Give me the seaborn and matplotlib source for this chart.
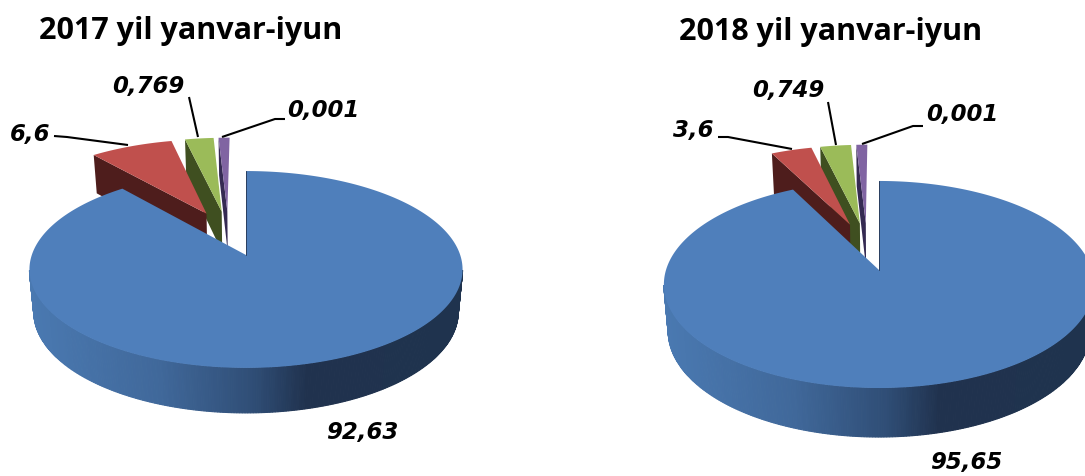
import numpy as np
import matplotlib
matplotlib.use('Agg')
import matplotlib.pyplot as plt
from matplotlib.colors import LinearSegmentedColormap
import seaborn as sns

# labels printed on the chart
titles = ['2017 yil yanvar-iyun', '2018 yil yanvar-iyun']
labels_2017 = ['92,63', '6,6', '0,769', '0,001']
labels_2018 = ['95,65', '3,6', '0,749', '0,001']

# slice sizes as drawn (percent of the circle)
shares_2017 = [88.9, 7.5, 2.6, 1.0]
shares_2018 = [92.5, 3.7, 2.8, 1.0]
explode = [0.25, 0.25, 0.25, 0.25]

sns.set_theme(style='white')
plt.rcParams['font.family'] = ['Open Sans', 'DejaVu Sans']

top_colors = sns.color_palette(['#4F7FBB', '#C0504D', '#9BBB59', '#8064A2'])
wall_colors = sns.color_palette(['#1F334E', '#4E1D1C', '#3F4F20', '#352A52'])
rim_cmap = LinearSegmentedColormap.from_list('rim', [
    (0.0, '#4A79B1'), (0.3, '#40689A'), (0.52, '#2F4D75'),
    (0.64, '#20324E'), (1.0, '#1F334E')])


def project(u, v, p, z=0.0):
    # flat disc coords -> pixels, with perspective; z=1 is the bottom of the pie
    u, v = np.asarray(u), np.asarray(v)
    s = 1 / (1 + p['k'] * v)
    x = p['rx'] * u * s * (1 - 0.02 * z)
    y = -p['ry'] * v * s + z * (p['depth'] - 3 * v)
    return p['cx'] + x, p['cy'] + y


def wedge_corners(w, n=120):
    a = np.radians(np.linspace(w.theta1, w.theta2, n))
    return w.center[0] + w.r * np.cos(a), w.center[1] + w.r * np.sin(a)


def draw_pie(ax, shares, p):
    wedges, _ = ax.pie(shares, explode=explode, startangle=90, counterclock=False)
    origin = wedges[0].center

    # small slices first, back to front, blue goes over them
    for i in [3, 2, 1]:
        w = wedges[i]
        au, av = wedge_corners(w)
        au, av = au - origin[0], av - origin[1]
        ou, ov = w.center[0] - origin[0], w.center[1] - origin[1]
        # left radial face, the only wall seen on these slices
        ex, ey = project([ou, au[-1]], [ov, av[-1]], p)
        bx, by = project([ou, au[-1]], [ov, av[-1]], p, z=1)
        ax.fill([ex[0], ex[1], bx[1], bx[0]], [ey[0], ey[1], by[1], by[0]],
                color=wall_colors[i], lw=0)
        x, y = project(np.r_[ou, au], np.r_[ov, av], p)
        ax.fill(x, y, color=top_colors[i], lw=0)

    blue = wedges[0]
    a = np.radians(np.linspace(blue.theta1, blue.theta2, 500))
    u, v = blue.r * np.cos(a), blue.r * np.sin(a)
    front = v <= -p['k']
    tx, ty = project(u[front], v[front], p)
    bx, by = project(u[front], v[front], p, z=1)
    order = np.argsort(tx)
    tx, ty, bx, by = tx[order], ty[order], bx[order], by[order]
    for j in range(len(tx) - 1):
        c = rim_cmap((tx[j] - tx[0]) / (tx[-1] - tx[0]))
        # edge in the same colour, otherwise the strips show as stripes
        ax.fill([tx[j], tx[j + 1], bx[j + 1], bx[j]],
                [ty[j], ty[j + 1], by[j + 1], by[j]], facecolor=c, edgecolor=c, lw=0.8)

    x, y = project(np.r_[0, u], np.r_[0, v], p)
    ax.fill(x, y, color=top_colors[0], lw=0)
    ax.plot([p['cx'], p['cx']], [p['cy'], y[-1]], color='#2A3F5F', lw=0.7)

    for w in wedges:
        w.remove()


def draw_text(ax, labels, title, t):
    ax.text(t['title'][0], t['title'][1], title, fontsize=22, fontweight='bold',
            color='black', ha='center', va='center')
    for lab, pos in zip(labels, t['labels']):
        ax.text(pos[0], pos[1], lab, fontsize=16.5, fontweight='bold', style='italic',
                family='DejaVu Sans', color='black', ha='center', va='center')
    for line in t['leaders']:
        ax.plot([q[0] for q in line], [q[1] for q in line], color='black', lw=1.5,
                solid_capstyle='butt')


fig = plt.figure(figsize=(10.85, 4.76), dpi=100)
ax = fig.add_axes([0, 0, 1, 1])

left = {'cx': 246, 'cy': 255, 'rx': 214.2, 'ry': 96.3, 'k': 0.147, 'depth': 42}
right = {'cx': 879, 'cy': 270, 'rx': 213, 'ry': 101.5, 'k': 0.14, 'depth': 46}

draw_pie(ax, shares_2017, left)
draw_pie(ax, shares_2018, right)

draw_text(ax, labels_2017, titles[0], {
    'title': (191, 31),
    'labels': [(362, 433), (30, 135), (148, 87), (323, 110)],
    'leaders': [[(54, 136), (67, 137), (128, 145)],
                [(189, 97), (198, 137)],
                [(285, 119), (275, 119), (222, 137)]]})
draw_text(ax, labels_2018, titles[1], {
    'title': (831, 32),
    'labels': [(966, 462), (693, 131), (788, 91), (962, 115)],
    'leaders': [[(718, 137), (728, 137), (792, 149)],
                [(828, 102), (836, 145)],
                [(923, 126), (913, 126), (862, 144)]]})

ax.set_aspect('auto')
ax.set_xlim(0, 1085)
ax.set_ylim(476, 0)
ax.axis('off')

plt.savefig('out.png', dpi=100)
